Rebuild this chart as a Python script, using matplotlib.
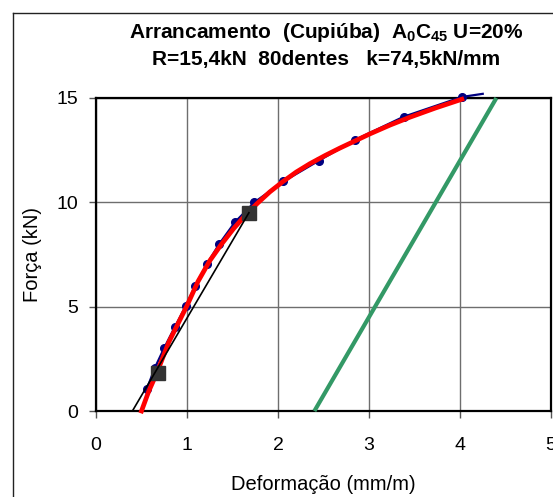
import matplotlib
matplotlib.use("Agg")
import matplotlib.pyplot as plt
from matplotlib.lines import Line2D

plt.rcParams['font.family'] = ['Liberation Sans', 'DejaVu Sans']
plt.rcParams['mathtext.fontset'] = 'custom'
plt.rcParams['mathtext.rm'] = 'Liberation Sans:bold'
plt.rcParams['mathtext.it'] = 'Liberation Sans:bold'
plt.rcParams['mathtext.bf'] = 'Liberation Sans:bold'

# measured data (blue)
data_x = [0.557, 0.648, 0.747, 0.868, 0.989, 1.09, 1.22, 1.355, 1.527, 1.74,
          2.06, 2.45, 2.85, 3.38, 4.02, 4.25]
data_y = [1.04, 2.08, 3.0, 4.04, 5.05, 6.0, 7.05, 8.01, 9.05, 10.0,
          11.0, 12.0, 13.0, 14.1, 15.05, 15.2]
# fitted curve (red)
fit_x = [0.50, 0.58, 0.67, 0.80, 1.0, 1.12, 1.25, 1.38, 1.51, 1.64, 1.77, 1.91,
         2.05, 2.2, 2.35, 2.52, 2.68, 2.85, 3.01, 3.23, 3.45, 3.73, 4.02]
fit_y = [0.0, 0.95, 1.84, 3.3, 5.05, 6.2, 7.2, 8.0, 8.73, 9.38, 9.94, 10.5,
         10.98, 11.45, 11.85, 12.25, 12.6, 12.95, 13.28, 13.7, 14.08, 14.52, 14.94]
# secant line (black) and its reference points
sec_x = [0.40, 1.68]
sec_y = [0.0, 9.5]
pts_x = [0.68, 1.68]
pts_y = [1.8, 9.5]
# unloading line (green)
unl_x = [2.40, 4.40]
unl_y = [0.0, 15.0]

xticks = [0, 1, 2, 3, 4, 5]
yticks = [0, 5, 10, 15]

W, H = 553, 497
fig = plt.figure(figsize=(W / 100, H / 100), dpi=100)
ax = fig.add_axes([96 / W, 1 - 411 / H, 455 / W, 313 / H])

ax.plot(unl_x, unl_y, color='#339966', lw=3.0, solid_capstyle='butt', zorder=3, clip_on=False)
ax.plot(data_x, data_y, color='#000080', lw=1.6, zorder=4, clip_on=False)
ax.plot(data_x[:-1], data_y[:-1], 'o', color='#000080', ms=5.5, zorder=4, clip_on=False)
ax.plot(fit_x, fit_y, color='#ff0000', lw=3.4, zorder=5, clip_on=False)
ax.plot(pts_x, pts_y, 's', color='#333333', ms=10, zorder=6, clip_on=False)
ax.plot(sec_x, sec_y, color='black', lw=1.2, zorder=7)

ax.set_xlim(0, 5)
ax.set_ylim(0, 15)
ax.set_xticks(xticks)
ax.set_yticks(yticks)
ax.grid(True, color='#6e6e6e', lw=1.0)
ax.set_axisbelow(True)
for s in ax.spines.values():
    s.set_linewidth(1.6)
    s.set_color('black')
ax.tick_params(axis='both', direction='out', length=5, width=1, labelsize=14, color='#555555')
ax.tick_params(axis='y', pad=8)
ax.tick_params(axis='x', pad=14)
ax.set_xlabel('Deformação (mm/m)', fontsize=14.5, labelpad=15)
ax.set_ylabel('Força (kN)', fontsize=14.5, labelpad=10)

cx = (96 + 551) / 2 / W + 3 / W
fig.text(cx, 1 - 37.5 / H, r'Arrancamento  (Cupiúba)  A$_0$C$_{45}$ U=20%',
         ha='center', va='baseline', fontsize=15, fontweight='bold')
fig.text(cx, 1 - 64.5 / H, 'R=15,4kN  80dentes   k=74,5kN/mm',
         ha='center', va='baseline', fontsize=15, fontweight='bold')

# outer frame
fig.add_artist(Line2D([13 / W, 13 / W], [0, 1 - 13 / H], color='#222222', lw=1.0))
fig.add_artist(Line2D([13 / W, 1], [1 - 13 / H, 1 - 13 / H], color='#222222', lw=1.0))

fig.savefig('out.png', dpi=100)
